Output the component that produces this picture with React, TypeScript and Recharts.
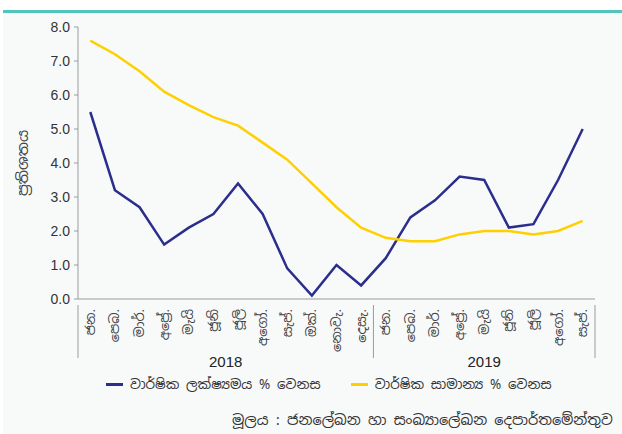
import React from "react";
import { LineChart, Line, XAxis, YAxis } from "recharts";

const ZWJ = "\u200d";

const months = [
  "ජන.", "පෙබ.", "මාර්.", `අප්${ZWJ}රේ.`, "මැයි", "ජූනි", "ජූලි", "අගෝ.", "සැප්.", "ඔක්.", "නොවැ.", "දෙසැ.",
  "ජන.", "පෙබ.", "මාර්.", `අප්${ZWJ}රේ.`, "මැයි", "ජූනි", "ජූලි", "අගෝ.", "සැප්.",
];

const pointToPoint = [5.5, 3.2, 2.7, 1.6, 2.1, 2.5, 3.4, 2.5, 0.9, 0.1, 1.0, 0.4, 1.2, 2.4, 2.9, 3.6, 3.5, 2.1, 2.2, 3.5, 5.0];
const annualAverage = [7.6, 7.2, 6.7, 6.1, 5.7, 5.35, 5.1, 4.6, 4.1, 3.4, 2.7, 2.1, 1.8, 1.7, 1.7, 1.9, 2.0, 2.0, 1.9, 2.0, 2.3];

const yTicks = [0, 1, 2, 3, 4, 5, 6, 7, 8];
const years = ["2018", "2019"];

const seriesNames = [
  `වාර්ෂික ලක්ෂ්${ZWJ}යමය % වෙනස`,
  `වාර්ෂික සාමාන්${ZWJ}ය % වෙනස`,
];
const yLabel = `ප්${ZWJ}රතිශතය`;
const source = `මූලය : ජනලේඛන හා සංඛ්${ZWJ}යාලේඛන දෙපාර්තමේන්තුව`;

const data = months.map((m, i) => ({
  month: m,
  p2p: pointToPoint[i],
  avg: annualAverage[i],
}));

const NAVY = "#2b2e8c";
const YELLOW = "#ffd000";
const AXIS = "#9a9a9a";
const FONT = "'Noto Sans Sinhala', 'Iskoola Pota', 'Noto Sans', sans-serif";
const NUM_FONT = "Arial, 'Liberation Sans', sans-serif";

const W = 622;
const H = 434;
const LEFT = 78;
const RIGHT = 595;
const PAD = (RIGHT - LEFT) / 42;
const STEP = (RIGHT - LEFT - 2 * PAD) / (months.length - 1);

function MonthTick(props: any) {
  const { x, y, payload, index } = props;
  const half = STEP / 2;
  const axisY = y - 2;
  const sep = (sx: number) => (
    <line x1={sx} x2={sx} y1={axisY} y2={axisY + 53} stroke={AXIS} strokeWidth={1} />
  );
  return (
    <g>
      <text
        x={x}
        y={axisY + 4}
        transform={`rotate(-90, ${x}, ${axisY + 4})`}
        textAnchor="end"
        dominantBaseline="central"
        fontSize={13}
        fill="#444"
        fontFamily={FONT}
      >
        {payload.value}
      </text>
      {index === 0 && sep(x - half)}
      {index === 12 && sep(x - half)}
      {index === months.length - 1 && sep(x + half)}
      {index === 5 && (
        <text x={x + half} y={axisY + 62} textAnchor="middle" fontSize={15} fill="#222" fontFamily={NUM_FONT}>
          {years[0]}
        </text>
      )}
      {index === 16 && (
        <text x={x} y={axisY + 62} textAnchor="middle" fontSize={15} fill="#222" fontFamily={NUM_FONT}>
          {years[1]}
        </text>
      )}
    </g>
  );
}

function LegendRow() {
  const item = (color: string, label: string, gap: number) => (
    <div style={{ display: "flex", alignItems: "center", marginRight: gap }}>
      <div style={{ width: 17, height: 3, background: color, marginRight: 7 }} />
      <span style={{ fontSize: 13.5, lineHeight: "16px", color: "#333", fontFamily: FONT }}>{label}</span>
    </div>
  );
  return (
    <div style={{ position: "absolute", left: 106, top: 376, display: "flex", alignItems: "center", whiteSpace: "nowrap" }}>
      {item(NAVY, seriesNames[0], 30)}
      {item(YELLOW, seriesNames[1], 0)}
    </div>
  );
}

export default function App() {
  return (
    <div style={{ position: "absolute", left: 0, top: 0, width: W, height: H, background: "#fff" }}>
      <div style={{ position: "absolute", left: 3, top: 13, width: W - 3, height: H - 13, background: "#f8fafa" }} />
      <div style={{ position: "absolute", left: 3, top: 10, width: W - 3, height: 3, background: "#52c5bb" }} />
      <div style={{ position: "absolute", left: 0, top: 0 }}>
        <LineChart width={W} height={H} data={data} margin={{ top: 27, right: W - RIGHT, left: 28, bottom: 80 }}>
          <XAxis
            dataKey="month"
            interval={0}
            padding={{ left: PAD, right: PAD }}
            tickLine={false}
            tick={<MonthTick />}
            height={55}
            stroke={AXIS}
            tickMargin={2}
          />
          <YAxis
            domain={[0, 8]}
            ticks={yTicks}
            width={50}
            tickSize={4}
            tickMargin={4}
            stroke={AXIS}
            tickFormatter={(v: number) => v.toFixed(1)}
            tick={{ fill: "#333", fontSize: 14, fontFamily: NUM_FONT }}
            label={({ viewBox }: any) => (
              <text
                x={viewBox.x - 6}
                y={viewBox.y + viewBox.height / 2}
                transform={`rotate(-90, ${viewBox.x - 6}, ${viewBox.y + viewBox.height / 2})`}
                textAnchor="middle"
                dominantBaseline="central"
                fontSize={15}
                fill="#444"
                fontFamily={FONT}
              >
                {yLabel}
              </text>
            )}
          />
          <Line dataKey="p2p" name={seriesNames[0]} stroke={NAVY} strokeWidth={2.5} dot={false} isAnimationActive={false} />
          <Line dataKey="avg" name={seriesNames[1]} stroke={YELLOW} strokeWidth={2.5} dot={false} isAnimationActive={false} />
        </LineChart>
      </div>
      <LegendRow />
      <div style={{ position: "absolute", left: 232, top: 411, fontSize: 14.5, lineHeight: "18px", color: "#333", fontFamily: FONT, whiteSpace: "nowrap" }}>
        {source}
      </div>
    </div>
  );
}
